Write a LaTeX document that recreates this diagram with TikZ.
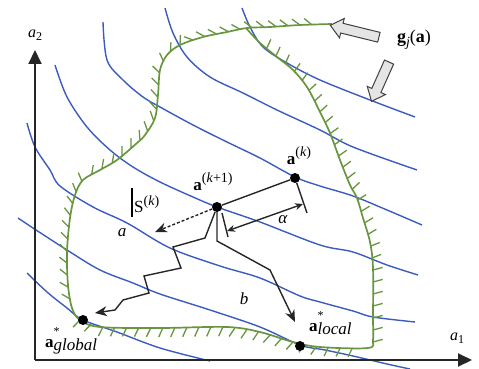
\documentclass[tikz,border=0pt]{standalone}
\usepackage{fontspec}
\setmainfont{Liberation Serif}
\usetikzlibrary{arrows.meta,shapes.arrows,decorations.pathreplacing}
\definecolor{cblue}{RGB}{58,92,192}
\definecolor{cgreen}{RGB}{104,150,62}
\newcommand\upx[2][8pt]{\raisebox{#1}{\fontsize{14}{14}\selectfont #2}}
\newcommand\dnx[2][-3pt]{\raisebox{#1}{\fontsize{14}{14}\selectfont #2}}
\begin{document}
\begin{tikzpicture}[x=1pt,y=-1pt,
  contour/.style={cblue, line width=1.4pt, smooth, tension=0.55},
  bound/.style={cgreen, line width=1.7pt, smooth, tension=0.55},
  hatch/.style={draw=cgreen, line width=1.3pt, decorate,
    decoration={border, segment length=12pt, amplitude=10pt, angle=#1}},
  blk/.style={draw=black!85, line width=1.4pt},
  axis/.style={draw=black!85, line width=2pt, -{Triangle[length=14pt,width=13pt]}},
  tipbig/.style={-{Stealth[length=12pt,width=10pt]}},
  dot/.style={circle, fill=black, inner sep=0pt, minimum size=10pt},
  lbl/.style={inner sep=0pt, text=black, font=\fontsize{17}{20}\selectfont},
  axlbl/.style={inner sep=0pt, text=black, font=\fontsize{16}{19}\selectfont},
  blockarrow/.style={single arrow, draw=black!75, fill=black!10, line width=1pt,
    minimum height=#1, inner sep=4.5pt, single arrow head extend=5pt,
    single arrow tip angle=80}]
\useasboundingbox (0,0) rectangle (479,369);

% contour lines
\draw[contour] plot coordinates {(242,8) (250,27) (263,47) (287,63) (320,80) (370,100) (415,117)};
\draw[contour] plot coordinates {(165,8) (173,33) (187,57) (210,77) (243,93) (277,110) (320,130) (353,147) (417,170)};
\draw[contour] plot coordinates {(103,22) (107,60) (123,80) (143,97) (160,107) (193,125) (227,142) (260,158) (295,177) (320,186) (353,196) (387,210) (422,225)};
\draw[contour] plot coordinates {(55,65) (67,97) (87,127) (110,150) (133,167) (160,182) (193,197) (217,207) (260,222) (320,245) (353,252) (387,265) (418,275)};
\draw[contour] plot coordinates {(27,123) (35,147) (50,170) (60,186) (93,207) (127,223) (170,248) (220,266) (260,278) (300,296) (320,302) (353,311) (373,317) (415,322)};
\draw[contour] plot coordinates {(18,218) (33,228) (67,250) (100,270) (133,283) (160,294) (210,310) (260,327) (300,345) (325,350) (353,356) (387,364) (410,369)};
\draw[contour] plot coordinates {(27,273) (47,292) (67,308) (83,320) (117,332) (160,348) (210,361)};

% feasible region boundary
\draw[bound] plot coordinates {(332,24) (300,25) (270,27) (247,28) (227,32) (203,37) (180,45) (167,55) (160,70) (158,95) (155,118) (145,135) (137,143) (117,160) (100,170) (83,180) (75,195) (70,218) (67,252) (68,285) (72,308) (80,320) (100,327) (160,328) (227,327) (260,332) (293,342) (320,347) (368,348) (373,340) (373,318) (373,268) (370,242) (363,218) (357,198) (350,185) (340,160) (330,133) (320,112) (307,87) (293,70) (277,57) (260,43) (246,28)};
\draw[hatch=-40] (312,25) -- (300,25) -- (270,27) -- (247,28) -- (227,32) -- (203,37) -- (180,45);
\draw[hatch=-130] (180,45) -- (167,55) -- (160,70) -- (158,95) -- (155,118) -- (145,135) -- (137,143) -- (117,160) -- (100,170) -- (83,180) -- (75,195) -- (70,218) -- (67,252) -- (68,285) -- (72,308) -- (76,315);
\draw[hatch=-115] (80,320) -- (100,327) -- (160,328) -- (227,327) -- (260,332) -- (293,342) -- (320,347) -- (366,348);
\draw[hatch=-75] (373,342) -- (373,318) -- (373,268) -- (370,242) -- (363,218) -- (357,198) -- (350,185) -- (340,160) -- (330,133) -- (320,112) -- (307,87) -- (293,70) -- (277,57) -- (260,43) -- (252,35);

% axes
\coordinate (O) at (35,360);
\coordinate (ytip) at (35,50);
\coordinate (xtip) at (472,360);
\draw[axis] (O) -- (ytip);
\draw[axis] (O) -- (xtip);
\node[axlbl] (la2) at (35,35) {\textit{a}\raisebox{-3pt}{\fontsize{12}{12}\selectfont 2}};
\node[axlbl] (la1) at (457,338) {\textit{a}\raisebox{-3pt}{\fontsize{12}{12}\selectfont 1}};

% constraint label and block arrows
\node[lbl, font=\fontsize{18}{20}\selectfont] (glab) at (414,40) {\textbf{g}\dnx[-4pt]{\textit{j}}(\textbf{a})};
\node[blockarrow=50pt, rotate=166.2] (garr1) at (357.5,32) {};
\node[blockarrow=43pt, rotate=245.9] (garr2) at (381.5,79) {};

% points
\node[dot] (ak1) at (217,207) {};
\node[dot] (ak) at (295,178) {};
\node[dot] (ag) at (83,320) {};
\node[dot] (al) at (300,346) {};

% step geometry
\draw[blk] (ak1) -- (ak);
\coordinate (e1) at (307,213);
\draw[blk] (ak) -- (e1);
\coordinate (e2a) at (222,213);
\coordinate (e2b) at (228,237);
\draw[blk] (e2a) -- (e2b);
\coordinate (alA) at (227,231);
\coordinate (alB) at (303,204);
\draw[blk, {Stealth[length=8pt,width=7pt]}-{Stealth[length=8pt,width=7pt]}] (alA) -- (alB);
\coordinate (sd) at (155,232);
\draw[blk, densely dashed, tipbig] (ak1) -- (sd);
\coordinate (gt) at (95,313);
\draw[blk, tipbig] (ak1) -- (205,238) -- (173,247) -- (181,268) -- (144,276) -- (149,293) -- (123,300) -- (115,310) -- (gt);
\coordinate (lt) at (295,322);
\draw[blk, tipbig] (ak1) -- (217,241) -- (270,270) -- (lt);

% labels
\node[lbl] (lak1) at (213,182) {\textbf{a}\upx{(\textit{k}+1)}};
\node[lbl] (lak) at (299,156) {\textbf{a}\upx{(\textit{k})}};
\node[lbl, anchor=west] (ls) at (134,204) {S\upx[7pt]{(\textit{k})}};
\coordinate (sb1) at (132,188);
\coordinate (sb2) at (132,217);
\draw[black, line width=1.3pt] (sb1) -- (sb2);
\node[lbl] (lalpha) at (283,220) {\textit{α}};
\node[lbl] (la) at (122,233) {\textit{a}};
\node[lbl] (lb) at (244,299) {\textit{b}};
\node[lbl, anchor=base west] (lg) at (45,347) {\textbf{a}\rlap{\raisebox{12pt}{\fontsize{12}{12}\selectfont *}}\raisebox{-3pt}{\textit{global}}};
\node[lbl, anchor=base west] (ll) at (309,331) {\textbf{a}\rlap{\raisebox{12pt}{\fontsize{12}{12}\selectfont *}}\raisebox{-3pt}{\textit{local}}};
\end{tikzpicture}
\end{document}
